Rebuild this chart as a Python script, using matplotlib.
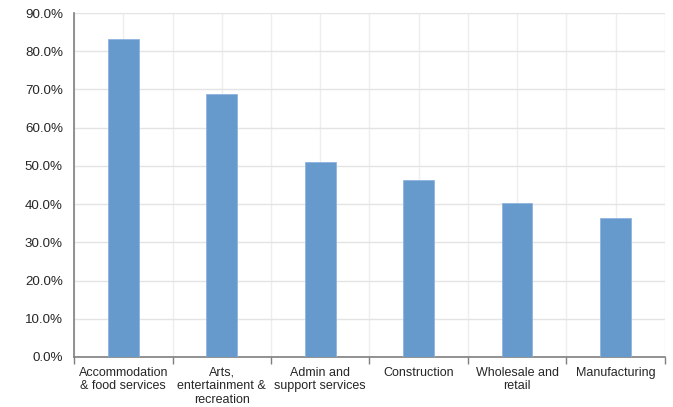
import numpy as np
import matplotlib
matplotlib.use("Agg")
import matplotlib.pyplot as plt
from matplotlib.ticker import FuncFormatter, FixedLocator

plt.rcParams['font.family'] = ['Liberation Sans', 'DejaVu Sans']

categories = [
    "Accommodation\n& food services",
    "Arts,\nentertainment &\nrecreation",
    "Admin and\nsupport services",
    "Construction",
    "Wholesale and\nretail",
    "Manufacturing",
]
values = [83.3, 68.9, 51.0, 46.3, 40.4, 36.4]
y_ticks = [0, 10, 20, 30, 40, 50, 60, 70, 80, 90]

fig = plt.figure(figsize=(6.73, 4.07), dpi=100)
ax = fig.add_axes([0.110, 0.123, 0.878, 0.845])

x = np.arange(len(categories))
ax.bar(x, values, width=0.31, color='#6699cc', edgecolor='#8fb4de',
       linewidth=0.6, zorder=3)

ax.set_xlim(-0.5, len(categories) - 0.5)
ax.set_ylim(0, 90)
ax.set_yticks(y_ticks)
ax.yaxis.set_major_formatter(FuncFormatter(lambda v, p: f"{v:.1f}%"))

# category boundaries carry tick marks; centres carry the labels
ax.xaxis.set_major_locator(FixedLocator(np.arange(len(categories) + 1) - 0.5))
ax.xaxis.set_major_formatter(FuncFormatter(lambda v, p: ""))
ax.set_xticks(x, minor=True)
ax.set_xticklabels(categories, minor=True, fontsize=9, color='#262626',
                   linespacing=1.2)
ax.tick_params(axis='x', which='major', length=5, width=1, color='#7f7f7f',
               direction='out')
ax.tick_params(axis='x', which='minor', length=0, pad=7)
ax.tick_params(axis='y', length=0, pad=8, labelsize=9.6, labelcolor='#262626')

ax.grid(True, axis='y', color='#e4e4e4', linewidth=1.0, zorder=0)
ax.grid(True, axis='x', which='both', color='#eeeeee', linewidth=1.0, zorder=0)
ax.set_axisbelow(True)

for s in ['top', 'right']:
    ax.spines[s].set_visible(False)
for s in ['left', 'bottom']:
    ax.spines[s].set_color('#7f7f7f')
    ax.spines[s].set_linewidth(1.2)

fig.savefig("out.png", dpi=100, facecolor='white')
